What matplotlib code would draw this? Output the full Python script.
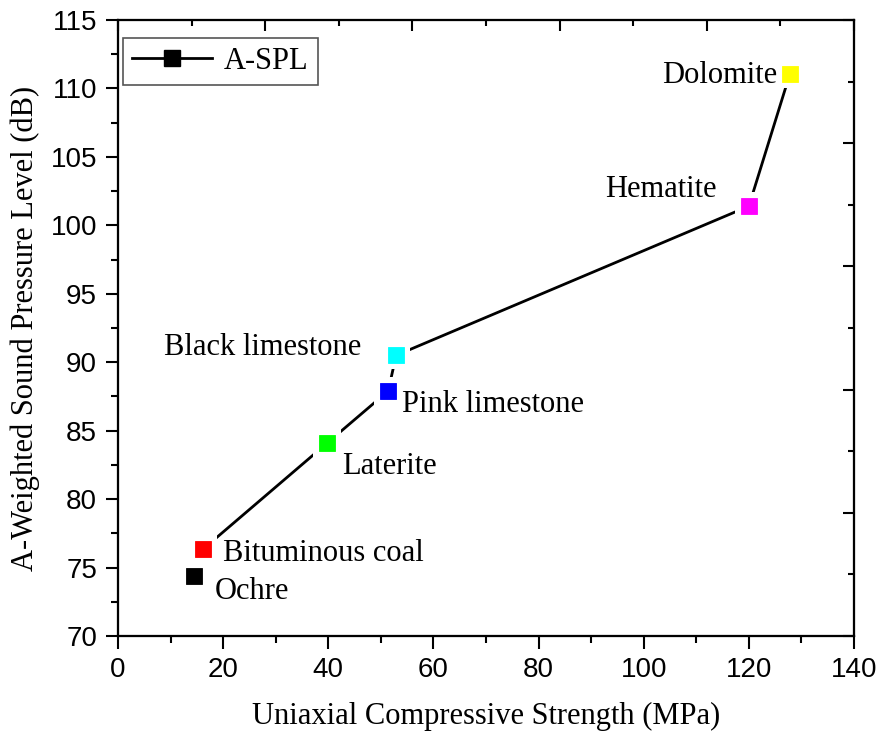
import numpy as np
import matplotlib
matplotlib.use("Agg")
import matplotlib.pyplot as plt

# ---- data ----
rocks = ["Ochre", "Bituminous coal", "Laterite", "Pink limestone",
         "Black limestone", "Hematite", "Dolomite"]
ucs = [14.5, 16.2, 39.8, 51.4, 52.9, 120.0, 127.8]
spl = [74.4, 76.35, 84.1, 87.9, 90.5, 101.4, 111.05]
colors = ["#000000", "#ff0000", "#00ff00", "#0000ff", "#00ffff", "#ff00ff", "#ffff00"]
xticks = [0, 20, 40, 60, 80, 100, 120, 140]
yticks = [70, 75, 80, 85, 90, 95, 100, 105, 110, 115]

# label offsets (points) and alignment
offsets = [(15, -11), (14, -3), (11, -17), (10, -10), (-25, 6), (-23, 12), (-9, -1)]
aligns = ["left", "left", "left", "left", "right", "right", "right"]

serif = ["Liberation Serif", "DejaVu Serif"]
narrow = ["Liberation Sans Narrow", "Liberation Sans", "DejaVu Sans"]

fig = plt.figure(figsize=(8.78, 7.33), dpi=100)
ax = fig.add_axes([118/878, 1-636/733, 736/878, 616/733])

ax.plot(ucs, spl, color="black", lw=2.0, zorder=2)
ax.scatter(ucs, spl, marker="s", s=20**2, color="white", zorder=3, linewidths=0)
for x, y, c in zip(ucs, spl, colors):
    ax.plot([x], [y], marker="s", ms=11.5, color=c, mec=c, mew=0.6, ls="none", zorder=4)

for name, x, y, (dx, dy), ha in zip(rocks, ucs, spl, offsets, aligns):
    ax.annotate(name, (x, y), xytext=(dx, dy), textcoords="offset points",
                ha=ha, va="center", fontsize=22, family=serif)

ax.set_xlim(0, 140)
ax.set_ylim(70, 115)
ax.set_xticks(xticks)
ax.set_yticks(yticks)
ax.set_xticks(np.arange(10, 140, 20), minor=True)
ax.set_yticks(np.arange(72.5, 115, 5), minor=True)
ax.tick_params(axis="both", which="major", direction="out", length=9, width=1.5,
               labelsize=20, pad=6)
ax.tick_params(axis="both", which="minor", direction="out", length=5, width=1.5)
for lbl in ax.get_xticklabels() + ax.get_yticklabels():
    lbl.set_family(narrow)
for s in ax.spines.values():
    s.set_linewidth(1.5)

ax.set_xlabel("Uniaxial Compressive Strength (MPa)", fontsize=22, family=serif, labelpad=14)
ax.set_ylabel("A-Weighted Sound Pressure Level (dB)", fontsize=22, family=serif, labelpad=8)

# top and right axes (Origin-style linked layers)
axt = ax.twiny()
axt.set_xlim(0, 140)
axt.set_xticks(np.arange(0, 141, 28))
axt.set_xticks(np.arange(14, 140, 28), minor=True)
axt.tick_params(axis="x", which="major", direction="in", length=8, width=1.5, labeltop=False)
axt.tick_params(axis="x", which="minor", direction="in", length=4, width=1.5)
axr = ax.twinx()
axr.set_ylim(70, 115)
axr.set_yticks(np.arange(70, 116, 9))
axr.set_yticks(np.arange(74.5, 115, 9), minor=True)
axr.tick_params(axis="y", which="major", direction="in", length=8, width=1.5, labelright=False)
axr.tick_params(axis="y", which="minor", direction="in", length=4, width=1.5)
for a in (axt, axr):
    for s in a.spines.values():
        s.set_linewidth(1.5)

# legend
h, = ax.plot([], [], color="black", lw=2.0, marker="s", ms=11.5, mfc="black", mec="black")
leg = ax.legend([h], ["A-SPL"], loc="upper left", bbox_to_anchor=(0.007, 0.971),
                borderaxespad=0, fancybox=False, edgecolor="#555555", framealpha=1,
                prop={"family": serif, "size": 22}, handlelength=2.6, handletextpad=0.4,
                borderpad=0.3)
leg.get_frame().set_linewidth(1.2)
leg.set_zorder(10)

fig.savefig("out.png", dpi=100)
